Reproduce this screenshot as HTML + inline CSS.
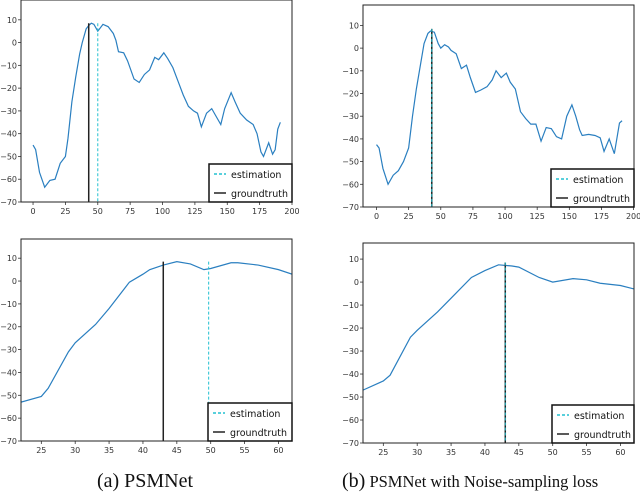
<!DOCTYPE html>
<html><head><meta charset="utf-8"><style>
body{margin:0;background:#fff;width:640px;height:494px;overflow:hidden}
svg{position:absolute;left:0;top:0}
text{font-family:"DejaVu Sans","Liberation Sans",sans-serif}
</style></head><body>
<svg id="fig" width="640" height="494" viewBox="0 0 640 494">
<text x="145" y="487" text-anchor="middle" style="font-family:'Liberation Serif',serif;font-size:20px" fill="#111">(a) PSMNet</text>
<text x="342" y="487" style="font-family:'Liberation Serif',serif" fill="#111"><tspan font-size="20">(b)</tspan><tspan font-size="16.5"> PSMNet with Noise-sampling loss</tspan></text>
</svg>
<script>
const tlX=[0,2,5,9,13,17,21,25,27,30,33,36,38,41,43,45,47,50,54,58,62,64,66,70,73,78,82,86,90,94,97,101,104,108,112,116,120,124,127,130,134,138,142,145,148,153,156,160,165,170,173,176,178,182,185,187,189,191];
const tlY=[-45,-47,-57,-63.5,-60.5,-60,-53,-50,-42,-26,-15,-5,0,6,7.5,8.5,8,5,8,7,4,1,-4,-4.5,-8,-16,-17.5,-14,-12,-6.5,-7.5,-4.5,-7,-11,-17,-23,-28,-30,-31,-37,-31,-29,-33,-36,-29,-22,-26,-31,-34,-36,-40,-48,-50,-44,-49,-47,-38,-35];
const trX=[0,2,5,9,13,17,21,25,28,31,34,37,40,42,45,48,50,53,56,58,62,66,70,73,77,81,86,90,93,97,101,104,108,112,116,120,124,128,132,136,140,144,148,152,155,158,160,165,170,174,177,181,185,189,191];
const trY=[-42.5,-44,-53,-60,-56,-54,-50,-44,-30,-18,-8,2,6.5,7.5,7,2,0,1.5,0.5,-1,-2.5,-9,-7.5,-13,-19.5,-18.5,-17,-14,-10,-13,-11,-15,-18,-28,-31,-33.5,-33.5,-41,-35,-35.5,-39,-40,-30,-25,-30,-36,-38.5,-38,-38.5,-39.5,-45.5,-40,-46.5,-33,-32];
const blX=[22,25,26,29,30,33,35,38,40,41,43,45,47,49,50,53,54,57,60,62];
const blY=[-53,-50.5,-47,-31,-27,-19,-12,-0.5,3,5,7,8.5,7.5,5,5.5,8,8,7,5,3];
const brX=[22,25,26,29,30,33,35,38,40,42,44,45,48,50,53,55,57,60,62];
const brY=[-47,-43,-40.5,-24,-21,-13,-7,2,5,7.5,7,6.5,2,0,1.5,1,-0.5,-1.5,-3];
const yTicks=[10,0,-10,-20,-30,-40,-50,-60,-70];
const xTicksTop=[0,25,50,75,100,125,150,175,200];
const xTicksBot=[25,30,35,40,45,50,55,60];
const NS="http://www.w3.org/2000/svg";
const svg=document.getElementById('fig');
function mk(t,a,p){const e=document.createElementNS(NS,t);for(const k in a)e.setAttribute(k,a[k]);(p||svg).appendChild(e);return e;}
function panel(name,L,R,T,B,x0,x1,y0,y1,xs,ys,xt,est,gt,lg){
 const g=mk('g',{});
 
 
 const sx=v=>L+(v-x0)/(x1-x0)*(R-L), sy=v=>B-(v-y0)/(y1-y0)*(B-T);
 yTicks.forEach(t=>{const y=sy(t);
  const tk=mk('line',{x1:L-3,x2:L,y1:y,y2:y,stroke:'#333','stroke-width':0.8},g);
  
  
  const tx=mk('text',{x:L-4,y:y+3,'text-anchor':'end','font-size':8,fill:'#333'},g);tx.textContent=t===0?'0':'\u2212'+Math.abs(t);if(t>0)tx.textContent=t;
  
  });
 xt.forEach(t=>{const x=sx(t);if(x<L-1||x>R+2)return;
  mk('line',{x1:x,x2:x,y1:B,y2:B+3,stroke:'#333','stroke-width':0.8},g);
  const tx=mk('text',{x:x,y:B+12,'text-anchor':'middle','font-size':8,fill:'#333'},g);tx.textContent=t;
  
  });
 const cp='c'+name;const cl=mk('clipPath',{id:cp},g);mk('rect',{x:L,y:T,width:R-L,height:B-T},cl);
 const ln=mk('polyline',{points:xs.map((x,i)=>sx(x)+','+sy(ys[i])).join(' '),fill:'none',stroke:'#2a7fc0','stroke-width':1.2,'clip-path':'url(#'+cp+')'},g);
 
 
 const gl=mk('line',{x1:sx(gt),x2:sx(gt),y1:sy(8.5),y2:B,stroke:'#222','stroke-width':1.5},g);
 
 
 const el=mk('line',{x1:sx(est),x2:sx(est),y1:sy(8.5),y2:B,stroke:'#22c0d0','stroke-width':1,'stroke-dasharray':'3,2'},g);
 
 
 mk('rect',{x:L,y:T,width:R-L,height:B-T,fill:'none',stroke:'#222','stroke-width':1},g);
 const lb=mk('g',{},g);
 
 
 mk('rect',{x:lg,y:B-38,width:R-lg,height:38,fill:'#fff',stroke:'#111','stroke-width':1.5},lb);
 mk('line',{x1:lg+5,x2:lg+17,y1:B-28,y2:B-28,stroke:'#22c0d0','stroke-width':1.5,'stroke-dasharray':'3,2'},lb);
 mk('line',{x1:lg+5,x2:lg+17,y1:B-9,y2:B-9,stroke:'#222','stroke-width':1.5},lb);
 const t1=mk('text',{x:lg+22,y:B-24,'font-size':9.5,fill:'#111'},lb);t1.textContent='estimation';
 const t2=mk('text',{x:lg+22,y:B-5,'font-size':9.5,fill:'#111'},lb);t2.textContent='groundtruth';
}
panel('top-left-chart',21,292,0,202,-9.3,200,-70,18.7,tlX,tlY,xTicksTop,50,43,209);
panel('top-right-chart',363,634,5,207,-10.5,200.3,-70,19,trX,trY,xTicksTop,43,43,551);
panel('bottom-left-chart',21,292,239,441,22,62,-70,18.4,blX,blY,xTicksBot,49.7,43,208);
panel('bottom-right-chart',363,634,243,443,22,62,-70,17,brX,brY,xTicksBot,43,43,552);
</script>
</body></html>
